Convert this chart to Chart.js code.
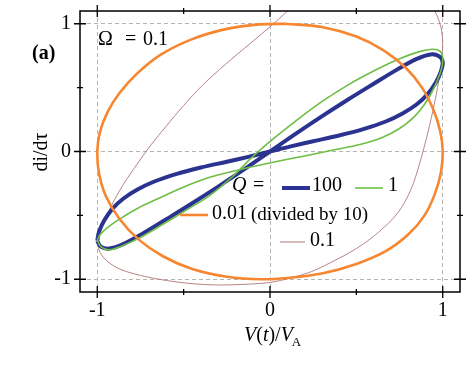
<!DOCTYPE html>
<html>
<head>
<meta charset="utf-8">
<script src="https://cdn.jsdelivr.net/npm/chart.js@4/dist/chart.umd.min.js"></script>
<style>
  body { margin: 0; background: #fff; }
  canvas { display: block; }
</style>
</head>
<body>
<canvas id="myChart" width="474" height="366"></canvas>
<script>
// axis ticks
const xTicks = [-1, -0.5, 0, 0.5, 1];
const yTicks = [-1, -0.5, 0, 0.5, 1];

// Q = 100 (blue, thick)
const q100X = [-1.0, -0.98, -0.93, -0.85, -0.74, -0.6, -0.45, -0.3, -0.15, 0, 0.15, 0.3, 0.45, 0.6, 0.74, 0.85, 0.93, 0.98, 1.0,
  0.99, 0.96, 0.91, 0.85, 0.77, 0.67, 0.54, 0.4, 0.25, 0.12, 0, -0.12, -0.25, -0.4, -0.54, -0.67, -0.77, -0.85, -0.91, -0.96, -0.99, -1.0];
const q100Y = [-0.7, -0.745, -0.76, -0.725, -0.645, -0.53, -0.405, -0.275, -0.14, 0, 0.14, 0.275, 0.405, 0.53, 0.645, 0.725, 0.76, 0.745, 0.7,
  0.63, 0.54, 0.445, 0.37, 0.3, 0.235, 0.175, 0.125, 0.08, 0.04, 0, -0.04, -0.08, -0.125, -0.175, -0.235, -0.3, -0.37, -0.445, -0.54, -0.63, -0.7];

// Q = 1 (green)
const q1X = [-1.0, -0.98, -0.93, -0.85, -0.74, -0.62, -0.48, -0.35, -0.22, -0.1, 0.02, 0.15, 0.3, 0.45, 0.6, 0.74, 0.86, 0.94, 0.985, 1.0,
  0.995, 0.97, 0.935, 0.89, 0.83, 0.75, 0.65, 0.52, 0.38, 0.2, 0, -0.2, -0.38, -0.52, -0.65, -0.76, -0.86, -0.93, -0.98, -1.0];
const q1Y = [-0.69, -0.745, -0.77, -0.735, -0.665, -0.57, -0.455, -0.345, -0.2, -0.04, 0.1, 0.24, 0.39, 0.52, 0.63, 0.72, 0.78, 0.8, 0.785, 0.74,
  0.66, 0.56, 0.46, 0.36, 0.265, 0.18, 0.11, 0.055, 0.015, -0.035, -0.09, -0.15, -0.215, -0.29, -0.37, -0.44, -0.52, -0.585, -0.645, -0.69];

// Q = 0.01 (orange, divided by 10)
const q001X = [0.09, 0.3, 0.5, 0.66, 0.79, 0.88, 0.945, 0.985, 1.0, 0.99, 0.955, 0.895, 0.8, 0.67, 0.5, 0.3, 0.1,
  -0.05, -0.25, -0.45, -0.62, -0.76, -0.87, -0.95, -0.99, -1.0, -0.985, -0.94, -0.87, -0.77, -0.63, -0.45, -0.25, -0.06, 0.09];
const q001Y = [1.0, 0.975, 0.9, 0.79, 0.65, 0.5, 0.33, 0.16, 0.0, -0.16, -0.33, -0.5, -0.65, -0.78, -0.88, -0.955, -0.99,
  -1.0, -0.98, -0.92, -0.82, -0.69, -0.53, -0.35, -0.17, 0.0, 0.15, 0.31, 0.46, 0.61, 0.76, 0.88, 0.96, 0.995, 1.0];

// Q = 0.1 (brown, thin)
const q01X = [0.15, 0.02, -0.12, -0.26, -0.39, -0.5, -0.6, -0.69, -0.77, -0.85, -0.92, -0.97, -0.995, -0.99, -0.95, -0.87,
  -0.75, -0.6, -0.45, -0.3, -0.15, 0.0, 0.12, 0.24, 0.35, 0.5, 0.63, 0.74, 0.815, 0.865, 0.905, 0.94, 0.97, 0.99, 1.0,
  0.99, 0.965, 0.935];
const q01Y = [1.16, 1.0, 0.84, 0.68, 0.52, 0.36, 0.2, 0.05, -0.1, -0.26, -0.43, -0.58, -0.69, -0.77, -0.85, -0.92,
  -0.97, -1.01, -1.035, -1.045, -1.04, -1.025, -0.99, -0.94, -0.87, -0.76, -0.63, -0.48, -0.3, -0.1, 0.1, 0.3, 0.5, 0.68, 0.84,
  0.97, 1.07, 1.15];

const toPts = (xs, ys) => xs.map((v, i) => ({ x: v, y: ys[i] }));

const SERIF = "'Liberation Serif', 'Times New Roman', serif";

function line(pts, color, width, order) {
  return {
    data: pts,
    showLine: true,
    borderColor: color,
    backgroundColor: color,
    borderWidth: width,
    pointRadius: 0,
    tension: 0.35,
    fill: false,
    order: order,
  };
}

const decor = {
  id: "decor",
  afterDatasetsDraw(chart) {
    const { ctx, chartArea: a, scales } = chart;
    const x = scales.x, y = scales.y;
    ctx.save();
    ctx.strokeStyle = "#000";
    ctx.lineWidth = 1.5;
    ctx.strokeRect(a.left, a.top, a.right - a.left, a.bottom - a.top);

    // crossing tick marks on all four sides
    ctx.lineWidth = 1.3;
    ctx.beginPath();
    xTicks.forEach(v => {
      const p = x.getPixelForValue(v);
      const len = Number.isInteger(v) ? 6 : 3;
      ctx.moveTo(p, a.bottom - len); ctx.lineTo(p, a.bottom + len);
      ctx.moveTo(p, a.top - len); ctx.lineTo(p, a.top + len);
    });
    yTicks.forEach(v => {
      const p = y.getPixelForValue(v);
      const len = Number.isInteger(v) ? 6 : 3;
      ctx.moveTo(a.left - len, p); ctx.lineTo(a.left + len, p);
      ctx.moveTo(a.right - len, p); ctx.lineTo(a.right + len, p);
    });
    ctx.stroke();

    ctx.fillStyle = "#000";
    ctx.textBaseline = "middle";
    ctx.textAlign = "left";

    // panel label and parameter
    ctx.font = "bold 20px " + SERIF;
    ctx.fillText("(a)", 32, 54);
    ctx.font = "20px " + SERIF;
    ctx.fillText("\u03A9", 98, 40);
    ctx.fillText("=", 125, 40);
    ctx.fillText("0.1", 143, 40);

    // y axis title
    ctx.save();
    ctx.translate(42, 152);
    ctx.rotate(-Math.PI / 2);
    ctx.textAlign = "center";
    ctx.font = "20px " + SERIF;
    ctx.fillText("di/d\u03C4", 0, 0);
    ctx.restore();

    // x axis title V(t)/V_A
    ctx.textBaseline = "alphabetic";
    let cx = 244;
    const by = 341;
    const part = (t, f) => { ctx.font = f; ctx.fillText(t, cx, by); cx += ctx.measureText(t).width; };
    part("V", "italic 20px " + SERIF);
    part("(", "20px " + SERIF);
    part("t", "italic 20px " + SERIF);
    part(")/", "20px " + SERIF);
    part("V", "italic 20px " + SERIF);
    ctx.font = "13px " + SERIF;
    ctx.fillText("A", cx - 1, by + 5);

    // legend
    ctx.textBaseline = "middle";
    ctx.font = "italic 20px " + SERIF;
    ctx.fillText("Q", 232, 186);
    ctx.font = "20px " + SERIF;
    ctx.fillText("=", 253, 186);
    ctx.fillText("100", 312, 186);
    ctx.fillText("1", 388, 186);
    ctx.fillText("0.01", 212, 214);
    ctx.font = "19px " + SERIF;
    ctx.fillText("(divided by 10)", 251, 215);
    ctx.font = "20px " + SERIF;
    ctx.fillText("0.1", 310, 241);

    const sample = (x0, x1, yy, color, w) => {
      ctx.beginPath();
      ctx.strokeStyle = color;
      ctx.lineWidth = w;
      ctx.moveTo(x0, yy); ctx.lineTo(x1, yy);
      ctx.stroke();
    };
    sample(282, 310, 188, "#2B3390", 4);
    sample(355, 383, 188, "#6DBE45", 1.6);
    sample(180, 208, 215, "#F6862F", 2.6);
    sample(280, 305, 242, "#B07676", 1);
    ctx.restore();
  },
};

const tickFont = { family: SERIF, size: 20 };

new Chart(document.getElementById("myChart").getContext("2d"), {
  type: "scatter",
  data: {
    datasets: [
      line(toPts(q01X, q01Y), "#B07676", 0.9, 4),
      line(toPts(q100X, q100Y), "#2B3390", 4, 3),
      line(toPts(q1X, q1Y), "#6DBE45", 1.6, 2),
      line(toPts(q001X, q001Y), "#F6862F", 2.6, 1),
    ],
  },
  options: {
    responsive: false,
    animation: false,
    layout: { padding: { top: 11, right: 14, left: 0, bottom: 0 } },
    plugins: { legend: { display: false }, tooltip: { enabled: false } },
    scales: {
      x: {
        type: "linear",
        min: -1.1,
        max: 1.1,
        afterBuildTicks: s => { s.ticks = xTicks.map(v => ({ value: v })); },
        afterFit: s => { s.height = 74; s.paddingLeft = 0; s.paddingRight = 0; },
        ticks: {
          autoSkip: false,
          maxRotation: 0,
          padding: 7,
          color: "#000",
          font: tickFont,
          callback: v => (Number.isInteger(v) ? String(v) : ""),
        },
        grid: {
          drawTicks: false,
          lineWidth: 1,
          color: c => (c.tick && Number.isInteger(c.tick.value) ? "#b4b4b4" : "rgba(0,0,0,0)"),
        },
        border: { display: false, dash: [4, 3] },
      },
      y: {
        type: "linear",
        min: -1.1,
        max: 1.1,
        afterBuildTicks: s => { s.ticks = yTicks.map(v => ({ value: v })); },
        afterFit: s => { s.width = 80; s.paddingTop = 0; s.paddingBottom = 0; },
        ticks: {
          autoSkip: false,
          padding: 9,
          color: "#000",
          font: tickFont,
          callback: v => (Number.isInteger(v) ? String(v) : ""),
        },
        grid: {
          drawTicks: false,
          lineWidth: 1,
          color: c => (c.tick && Number.isInteger(c.tick.value) ? "#b4b4b4" : "rgba(0,0,0,0)"),
        },
        border: { display: false, dash: [4, 3] },
      },
    },
  },
  plugins: [decor],
});
</script>
</body>
</html>
